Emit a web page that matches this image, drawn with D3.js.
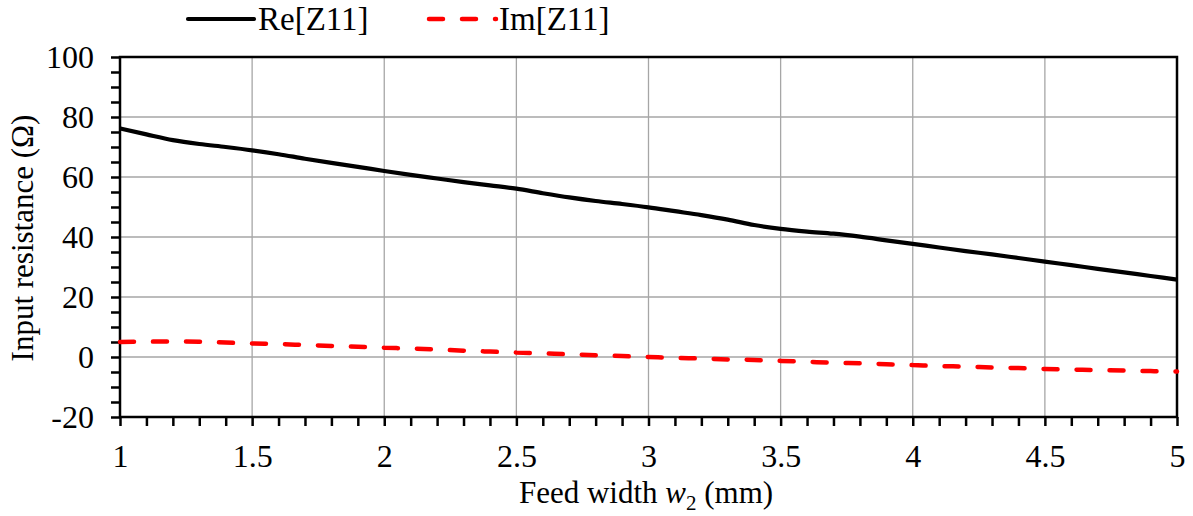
<!DOCTYPE html>
<html><head><meta charset="utf-8">
<script src="https://cdn.jsdelivr.net/npm/d3@7"></script>
<style>body{margin:0;background:#fff}svg{display:block}</style>
</head><body>
<svg id="c" width="1193" height="516"></svg>
<script>
const widths = [1.0,1.1,1.2,1.3,1.4,1.5,1.6,1.7,1.8,1.9,2.0,2.1,2.2,2.3,2.4,2.5,2.6,2.7,2.8,2.9,3.0,3.1,3.2,3.3,3.4,3.5,3.6,3.7,3.8,3.9,4.0,4.1,4.2,4.3,4.4,4.5,4.6,4.7,4.8,4.9,5.0];
const reZ11 = [76.2,74.2,72.3,71.0,70.0,68.9,67.6,66.1,64.7,63.4,62.0,60.7,59.5,58.3,57.2,56.1,54.6,53.2,52.0,51.0,49.9,48.6,47.3,45.8,44.0,42.7,41.8,41.1,40.1,38.9,37.7,36.5,35.3,34.2,33.0,31.8,30.6,29.4,28.2,27.0,25.8];
const imZ11 = [5.0,5.1,5.2,5.1,4.8,4.5,4.3,4.0,3.7,3.4,3.1,2.8,2.5,2.1,1.8,1.5,1.2,0.9,0.6,0.3,0.0,-0.3,-0.5,-0.8,-1.0,-1.3,-1.6,-1.9,-2.1,-2.4,-2.7,-3.0,-3.2,-3.5,-3.7,-4.0,-4.2,-4.4,-4.5,-4.7,-4.8];
const xTicks = [1,1.5,2,2.5,3,3.5,4,4.5,5];
const yTicks = [-20,0,20,40,60,80,100];
const seriesNames = ["Re[Z11]","Im[Z11]"];

const FONT = '"Liberation Serif"';
const svg = d3.select("#c");
const L=120,R=1177,T=57,B=417;
const x = d3.scaleLinear().domain([1,5]).range([L,R]);
const y = d3.scaleLinear().domain([-20,100]).range([B,T]);

// grid
svg.append("g").selectAll("line").data(xTicks.slice(1,-1)).join("line")
  .attr("x1",d=>x(d)).attr("x2",d=>x(d)).attr("y1",T).attr("y2",B)
  .attr("stroke","#a6a6a6").attr("stroke-width",1.3);
svg.append("g").selectAll("line").data(yTicks.slice(1,-1)).join("line")
  .attr("y1",d=>y(d)).attr("y2",d=>y(d)).attr("x1",L).attr("x2",R)
  .attr("stroke","#a6a6a6").attr("stroke-width",1.3);

// frame
svg.append("rect").attr("x",L).attr("y",T).attr("width",R-L).attr("height",B-T)
  .attr("fill","none").attr("stroke","#000").attr("stroke-width",2.5);

// x axis
const xMinor = d3.range(10,51).map(d=>d/10);
const xAx = svg.append("g").attr("transform",`translate(0,${B})`)
  .call(d3.axisBottom(x).tickValues(xMinor).tickSize(9).tickFormat(d=>xTicks.includes(d)?d3.format("")(d):""));
xAx.select(".domain").remove();
xAx.attr("font-family",null).attr("font-size",null);
xAx.selectAll(".tick line").attr("stroke","#000").attr("stroke-width",2.5);
xAx.selectAll(".tick text").attr("dy",0).attr("y",50).attr("fill","#000")
  .style("font-family",FONT).style("font-size","32px");

// y axis
const yMinor = d3.range(-20,101,5);
const yAx = svg.append("g").attr("transform",`translate(${L},0)`)
  .call(d3.axisLeft(y).tickValues(yMinor).tickSize(9).tickFormat(d=>yTicks.includes(d)?String(d):""));
yAx.select(".domain").remove();
yAx.attr("font-family",null).attr("font-size",null);
yAx.selectAll(".tick line").attr("stroke","#000").attr("stroke-width",2.5);
yAx.selectAll(".tick text").attr("x",-26).attr("dy","0.34em").attr("fill","#000")
  .style("font-family",FONT).style("font-size","32px");

// lines
const data = widths.map((w,i)=>({w,re:reZ11[i],im:imZ11[i]}));
const lineRe = d3.line().x(d=>x(d.w)).y(d=>y(d.re)).curve(d3.curveMonotoneX);
const lineIm = d3.line().x(d=>x(d.w)).y(d=>y(d.im)).curve(d3.curveMonotoneX);
svg.append("path").datum(data).attr("d",lineIm).attr("fill","none")
  .attr("stroke","#ff0000").attr("stroke-width",4.5).attr("stroke-dasharray","14,19").attr("stroke-linecap","round");
svg.append("path").datum(data).attr("d",lineRe).attr("fill","none")
  .attr("stroke","#000").attr("stroke-width",4.2).attr("stroke-linejoin","round");

// axis titles
const xt = svg.append("text").attr("x",646).attr("y",503).attr("text-anchor","middle")
  .style("font-family",FONT).style("font-size","31px");
xt.append("tspan").text("Feed width ");
xt.append("tspan").style("font-style","italic").text("w");
xt.append("tspan").style("font-size","21px").attr("dy",7).text("2");
xt.append("tspan").attr("dy",-7).text(" (mm)");
svg.append("text").attr("transform","translate(33,238) rotate(-90)").attr("text-anchor","middle")
  .style("font-family",FONT).style("font-size","31px").text("Input resistance (Ω)");

// legend
const lg = svg.append("g");
lg.append("line").attr("x1",188).attr("x2",254).attr("y1",19).attr("y2",19).attr("stroke","#000").attr("stroke-width",4.2).attr("stroke-linecap","round");
lg.append("text").attr("x",258).attr("y",30).style("font-family",FONT).style("font-size","33px").text(seriesNames[0]);
lg.append("line").attr("x1",429).attr("x2",496).attr("y1",19).attr("y2",19).attr("stroke","#ff0000").attr("stroke-width",4.5).attr("stroke-dasharray","14,19").attr("stroke-linecap","round");
lg.append("text").attr("x",499).attr("y",30).style("font-family",FONT).style("font-size","33px").text(seriesNames[1]);
</script>
</body></html>
